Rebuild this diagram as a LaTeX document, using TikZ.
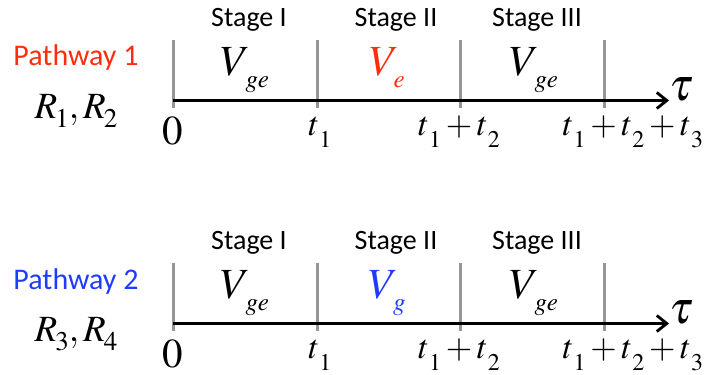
\documentclass[tikz,border=0pt]{standalone}
\usepackage{mathptmx}
\usepackage{fontspec}
\newfontfamily\carlito{Carlito}
\usetikzlibrary{arrows.meta}
\definecolor{pred}{RGB}{255,45,10}
\definecolor{pblue}{RGB}{30,60,255}
\definecolor{tickgray}{RGB}{150,150,150}
% lowered subscript: kern, drop, size, content
\newcommand{\dsub}[4]{\kern#1\lower#2\hbox{\fontsize{#3}{#3}\selectfont$#4$}}
\newcommand{\Vs}[1]{V\dsub{-5pt}{12pt}{25}{#1}}
\newcommand{\ts}[1]{t\dsub{0pt}{12pt}{24}{#1}}
\newcommand{\Rs}[1]{R\dsub{-2pt}{9pt}{27}{#1}}
\tikzset{
  stagelbl/.style={font=\carlito\fontsize{28}{30}\selectfont, anchor=center, inner sep=0pt},
  pathlbl/.style={font=\carlito\fontsize{30}{32}\selectfont, anchor=center, inner sep=0pt},
  potlbl/.style={font=\fontsize{43}{46}\selectfont, anchor=base, inner sep=0pt},
  taulbl/.style={font=\fontsize{46}{48}\selectfont, anchor=base, inner sep=0pt},
  rlbl/.style={font=\fontsize{37}{40}\selectfont, anchor=base, inner sep=0pt},
  zerolbl/.style={font=\fontsize{41}{44}\selectfont, anchor=base, inner sep=0pt},
  timelbl/.style={font=\fontsize{34}{38}\selectfont, anchor=base, inner sep=0pt},
  tickline/.style={draw=tickgray, line width=3pt},
  axisline/.style={draw=black, line width=3pt, -{Straight Barb[length=10pt,width=16pt,line width=2.8pt]}},
}
\begin{document}
\begin{tikzpicture}[x=1pt,y=-1pt]
\useasboundingbox (0,0) rectangle (710,375);
\foreach \r/\dy/\col/\name/\Ra/\Rb/\sub in {1/0/pred/Pathway 1/1/2/e, 2/223/pblue/Pathway 2/3/4/g}{
  \begin{scope}[yshift=-\dy pt]
    % ticks
    \coordinate (a\r) at (173,40); \coordinate (A\r) at (173,108);
    \coordinate (b\r) at (317,40); \coordinate (B\r) at (317,108);
    \coordinate (c\r) at (460,40); \coordinate (C\r) at (460,108);
    \coordinate (d\r) at (604,40); \coordinate (D\r) at (604,108);
    \draw[tickline] (a\r) -- (A\r);
    \draw[tickline] (b\r) -- (B\r);
    \draw[tickline] (c\r) -- (C\r);
    \draw[tickline] (d\r) -- (D\r);
    \coordinate (s\r) at (173,100.5);
    \coordinate (e\r) at (669,100.5);
    \draw[axisline] (s\r) -- (e\r);
    \node[taulbl] (tau\r) at (681,100) {$\tau$};
    % stage labels
    \node[stagelbl] (st1\r) at (249,20) {Stage I};
    \node[stagelbl] (st2\r) at (396,20) {Stage II};
    \node[stagelbl] (st3\r) at (537,20) {Stage III};
    % potentials
    \node[potlbl] (v1\r) at (245,75) {$\Vs{ge}$};
    \node[potlbl, text=\col] (v2\r) at (387,75) {$\Vs{\sub}$};
    \node[potlbl] (v3\r) at (534,75) {$\Vs{ge}$};
    % left labels
    \node[pathlbl, text=\col] (p\r) at (76,58) {\name};
    \node[rlbl] (r\r) at (76,118) {$\Rs{\Ra},\Rs{\Rb}$};
    % time labels
    \node[zerolbl] (z\r) at (173,144) {$0$};
    \node[timelbl] (t1\r) at (320,135) {$\ts{1}$};
    \node[timelbl] (t2\r) at (459,135) {$\ts{1}+\ts{2}$};
    \node[timelbl] (t3\r) at (633,135) {$\ts{1}+\ts{2}+\ts{3}$};
  \end{scope}
}
\end{tikzpicture}
\end{document}
